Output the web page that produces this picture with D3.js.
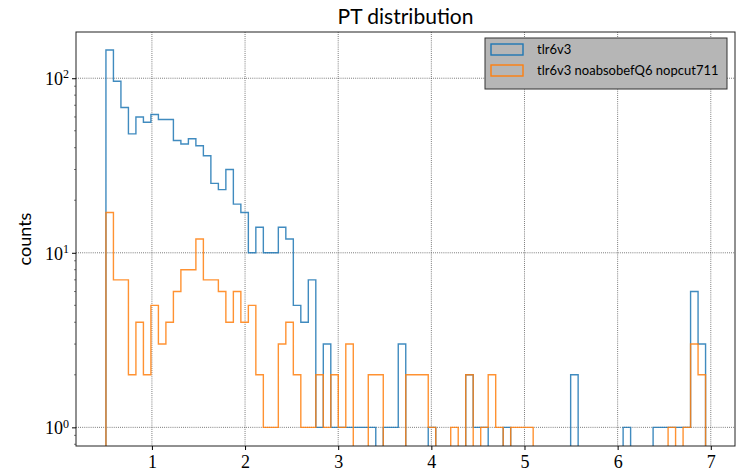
<!DOCTYPE html>
<html>
<head>
<meta charset="utf-8">
<script src="https://cdn.jsdelivr.net/npm/d3@7"></script>
<style>
  body { margin: 0; background: #fff; }
  svg { display: block; }
</style>
</head>
<body>
<div id="chart"></div>
<script>
// histogram binning (80 equal bins)
let binLo = 0.5064,
  binHi = 6.944,
  nBins = 80

// counts per bin
let countsA = [145, 96, 68, 48, 60, 56, 62, 58, 58, 44,
  42, 45, 41, 36, 25, 23, 30, 19, 17, 10,
  14, 10, 10, 14, 12, 5, 4, 7, 1, 3,
  1, 1, 1, 1, 1, 1, 0, 1, 1, 3,
  0, 0, 0, 1, 0, 0, 0, 0, 2, 1,
  1, 0, 0, 1, 0, 0, 0, 0, 0, 0,
  0, 0, 2, 0, 0, 0, 0, 0, 0, 1,
  0, 0, 0, 1, 1, 1, 1, 1, 6, 3]

let countsB = [17, 7, 7, 2, 4, 2, 5, 3, 4, 6,
  8, 8, 12, 7, 7, 6, 4, 6, 4, 5,
  2, 1, 1, 3, 4, 2, 1, 1, 2, 1,
  2, 1, 3, 0, 0, 2, 2, 0, 0, 0,
  2, 2, 2, 1, 0, 0, 1, 0, 2, 0,
  1, 2, 1, 0, 1, 1, 1, 0, 0, 0,
  0, 0, 0, 0, 0, 0, 0, 0, 0, 0,
  0, 0, 0, 0, 0, 1, 0, 1, 3, 2]

let seriesNames = ['tlr6v3', 'tlr6v3 noabsobefQ6 nopcut711']
let seriesColors = ['#1f77b4', '#ff7f0e']
let xTicks = [1, 2, 3, 4, 5, 6, 7]
let yTicks = [1, 10, 100]

let width = 740,
  height = 473,
  frame = {left: 76, right: 735, top: 32, bottom: 446}

let x = d3.scaleLinear()
  .domain([0.185, 7.26])
  .range([frame.left, frame.right])

let y = d3.scaleLog()
  .domain([0.782, 184])
  .range([frame.bottom, frame.top])

let edges = d3.range(nBins + 1).map(i => binLo + i * (binHi - binLo) / nBins)

let svg = d3.select('#chart').append('svg')
  .attr('width', width)
  .attr('height', height)

svg.append('defs').append('clipPath')
  .attr('id', 'clip')
  .append('rect')
  .attr('x', frame.left)
  .attr('y', frame.top)
  .attr('width', frame.right - frame.left)
  .attr('height', frame.bottom - frame.top)

// grid
let grid = svg.append('g')
grid.selectAll('.vgrid')
  .data(xTicks)
  .enter().append('line')
  .attr('x1', d => x(d)).attr('x2', d => x(d))
  .attr('y1', frame.top).attr('y2', frame.bottom)
grid.selectAll('.hgrid')
  .data(yTicks)
  .enter().append('line')
  .attr('x1', frame.left).attr('x2', frame.right)
  .attr('y1', d => y(d)).attr('y2', d => y(d))
grid.selectAll('line')
  .attr('stroke', '#333')
  .attr('stroke-width', 0.8)
  .attr('stroke-dasharray', '0.8,1.3')

// step histograms
let floor = 0.2
function stepPoints(counts) {
  let pts = [[edges[0], floor]]
  counts.forEach((c, i) => {
    let v = c > 0 ? c : floor
    pts.push([edges[i], v], [edges[i + 1], v])
  })
  pts.push([edges[nBins], floor])
  return pts
}

let line = d3.line()
  .x(d => x(d[0]))
  .y(d => y(d[1]))

svg.append('g')
  .attr('clip-path', 'url(#clip)')
  .selectAll('path')
  .data([countsA, countsB])
  .enter().append('path')
  .attr('d', d => line(stepPoints(d)))
  .attr('fill', 'none')
  .attr('stroke', (d, i) => seriesColors[i])
  .attr('stroke-width', 1.4)
  .attr('stroke-opacity', 0.85)

// frame
svg.append('rect')
  .attr('x', frame.left)
  .attr('y', frame.top)
  .attr('width', frame.right - frame.left)
  .attr('height', frame.bottom - frame.top)
  .attr('fill', 'none')
  .attr('stroke', '#222')
  .attr('stroke-width', 1)

// x axis
let xAxis = svg.append('g')
  .attr('transform', 'translate(0,' + frame.bottom + ')')
  .call(d3.axisBottom(x).tickValues(xTicks).tickSize(4).tickPadding(5).tickFormat(d3.format('d')))
xAxis.select('.domain').remove()
xAxis.selectAll('text')
  .attr('font-family', 'Liberation Serif, serif')
  .attr('font-size', '18px')
  .attr('fill', '#000')

// y axis, log with minor ticks
let minor = []
;[0.1, 1, 10, 100].forEach(p => {
  for (let k = 2; k <= 9; k++) {
    let v = p * k
    if (v >= y.domain()[0] && v <= y.domain()[1]) minor.push(v)
  }
})
svg.append('g').selectAll('line')
  .data(minor)
  .enter().append('line')
  .attr('x1', frame.left - 2).attr('x2', frame.left)
  .attr('y1', d => y(d)).attr('y2', d => y(d))
  .attr('stroke', '#222')
  .attr('stroke-width', 0.6)

let yAxis = svg.append('g')
  .attr('transform', 'translate(' + frame.left + ',0)')
  .call(d3.axisLeft(y).tickValues(yTicks).tickSize(4).tickPadding(5).tickFormat(''))
yAxis.select('.domain').remove()
yAxis.selectAll('.tick').each(function (d) {
  let t = d3.select(this).append('text')
    .attr('x', -7)
    .attr('dy', '0.35em')
    .attr('text-anchor', 'end')
    .attr('font-family', 'Liberation Serif, serif')
    .attr('font-size', '18px')
    .attr('fill', '#000')
  t.append('tspan').text('10')
  t.append('tspan')
    .attr('dy', '-0.55em')
    .attr('font-size', '12px')
    .text(Math.round(Math.log10(d)))
})

// labels
svg.append('text')
  .attr('x', (frame.left + frame.right) / 2)
  .attr('y', 24)
  .attr('text-anchor', 'middle')
  .attr('font-family', 'Lato, sans-serif')
  .attr('font-size', '21px')
  .text('PT distribution')

svg.append('text')
  .attr('transform', 'translate(31,' + ((frame.top + frame.bottom) / 2) + ') rotate(-90)')
  .attr('text-anchor', 'middle')
  .attr('font-family', 'Lato, sans-serif')
  .attr('font-size', '18px')
  .text('counts')

// legend
let legend = svg.append('g')
  .attr('transform', 'translate(485,38)')
legend.append('rect')
  .attr('width', 242)
  .attr('height', 51)
  .attr('fill', '#b6b6b6')
  .attr('stroke', '#333')
  .attr('stroke-width', 1)
let items = legend.selectAll('.item')
  .data(seriesNames)
  .enter().append('g')
  .attr('transform', (d, i) => 'translate(6,' + (6 + i * 21) + ')')
items.append('rect')
  .attr('width', 32)
  .attr('height', 11)
  .attr('fill', 'none')
  .attr('stroke', (d, i) => seriesColors[i])
  .attr('stroke-width', 1.4)
items.append('text')
  .attr('x', 46)
  .attr('y', 10)
  .attr('font-family', 'Lato, sans-serif')
  .attr('font-size', '13px')
  .text(d => d)
</script>
</body>
</html>
